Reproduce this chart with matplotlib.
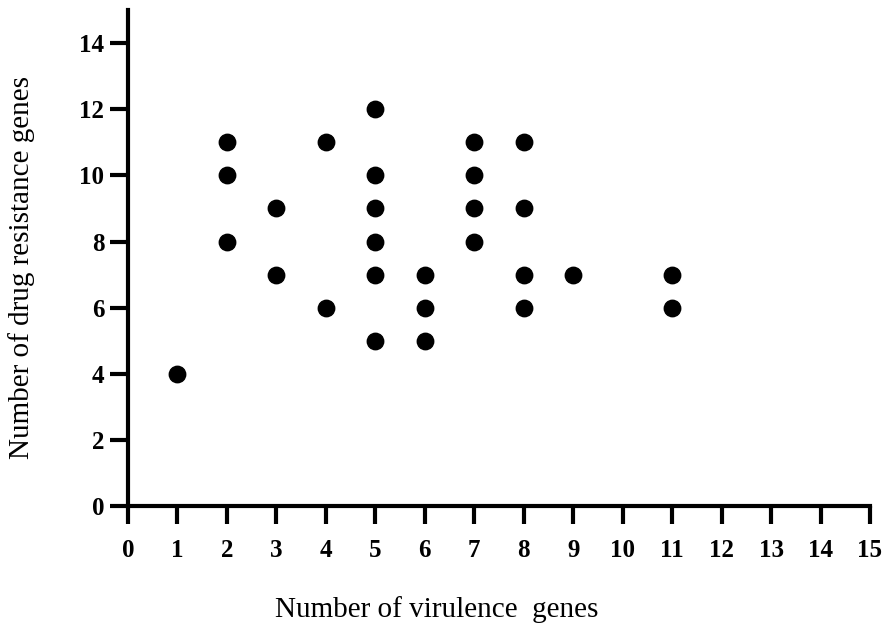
import matplotlib
matplotlib.use("Agg")
import matplotlib.pyplot as plt

# (virulence genes, drug resistance genes) per isolate
virulence = [1, 2, 2, 2, 3, 3, 4, 4, 5, 5, 5, 5, 5, 5, 6, 6, 6,
             7, 7, 7, 7, 8, 8, 8, 8, 9, 11, 11]
resistance = [4, 11, 10, 8, 9, 7, 11, 6, 12, 10, 9, 8, 7, 5, 7, 6, 5,
              11, 10, 9, 8, 11, 9, 7, 6, 7, 7, 6]

x_ticks = list(range(0, 16))
y_ticks = list(range(0, 15, 2))

plt.rcParams['font.family'] = ['Liberation Serif', 'DejaVu Serif']

fig = plt.figure(figsize=(8.92, 6.34), dpi=100)
ax = fig.add_axes([0.1435, 0.202, 0.8318, 0.782])

ax.scatter(virulence, resistance, s=140, c='black', zorder=3, clip_on=False)

ax.set_xlim(0, 15)
ax.set_ylim(0, 15)
ax.set_xticks(x_ticks)
ax.set_yticks(y_ticks)

for side in ['top', 'right']:
    ax.spines[side].set_visible(False)
for side in ['left', 'bottom']:
    ax.spines[side].set_linewidth(3)

ax.tick_params(axis='both', direction='out', length=13, width=3, labelsize=18)
ax.tick_params(axis='x', pad=11)
ax.tick_params(axis='y', pad=4)
for lab in ax.get_xticklabels() + ax.get_yticklabels():
    lab.set_fontweight('bold')

ax.set_xlabel('Number of virulence  genes', fontsize=21)
ax.set_ylabel('Number of drug resistance genes', fontsize=21)
ax.xaxis.set_label_coords(0.416, -0.181)
ax.yaxis.set_label_coords(-0.125, 0.48)

fig.savefig('out.png', dpi=100)
